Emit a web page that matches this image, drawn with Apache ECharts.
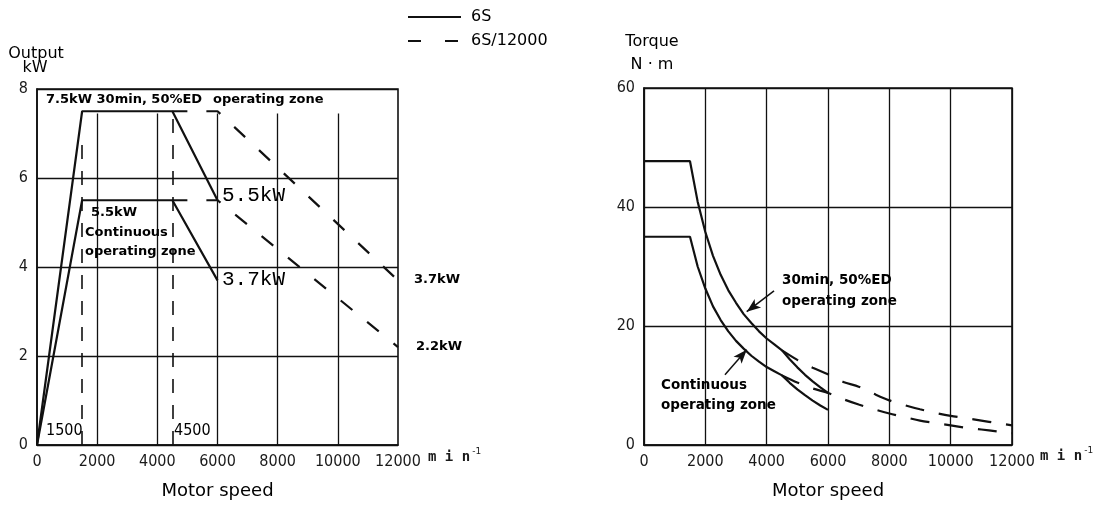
<!DOCTYPE html>
<html>
<head>
<meta charset="utf-8">
<title>6S output and torque vs motor speed</title>
<script src="https://cdn.jsdelivr.net/npm/echarts@6/dist/echarts.min.js"></script>
<style>
  html, body { margin: 0; padding: 0; background: #fff; }
  #chart { width: 1106px; height: 508px; }
</style>
</head>
<body>
<div id="chart"></div>
<script>
// ---- Data ----------------------------------------------------------------
// Output (kW) vs motor speed (min^-1), [speed, kW]
const out30min6S   = [[0, 0], [1500, 7.5], [4500, 7.5], [6000, 5.5]];
const outCont6S    = [[0, 0], [1500, 5.5], [4500, 5.5], [6000, 3.7]];
const out30min12k  = [[4500, 7.5], [6000, 7.5], [12000, 3.7]];
const outCont12k   = [[4500, 5.5], [6000, 5.5], [12000, 2.2]];

// Torque (N·m) vs motor speed, [speed, N·m]
const tq30min6S  = [[0, 47.7], [1500, 47.7], [1750, 40.9], [2000, 35.8], [2250, 31.8], [2500, 28.6],
                    [2750, 26.0], [3000, 23.9], [3250, 22.0], [3500, 20.5], [3750, 19.1], [4000, 17.9],
                    [4250, 16.9], [4500, 15.9], [4750, 14.4], [5000, 13.05], [5250, 11.8], [5500, 10.7],
                    [5750, 9.7], [6000, 8.75]];
const tqCont6S   = [[0, 35.0], [1500, 35.0], [1750, 30.0], [2000, 26.3], [2250, 23.3], [2500, 21.0],
                    [2750, 19.1], [3000, 17.5], [3250, 16.2], [3500, 15.0], [3750, 14.0], [4000, 13.1],
                    [4250, 12.4], [4500, 11.7], [4750, 10.45], [5000, 9.36], [5250, 8.37], [5500, 7.47],
                    [5750, 6.64], [6000, 5.9]];
const tq30min12k = [[4500, 15.9], [5000, 14.3], [5500, 13.0], [6000, 11.9], [6500, 10.6], [7000, 9.8],
                    [7500, 8.6], [8000, 7.5], [8500, 6.7], [9000, 6.0], [9500, 5.4], [10000, 4.9],
                    [10500, 4.5], [11000, 4.1], [11500, 3.7], [12000, 3.3]];
const tqCont12k  = [[4500, 11.7], [5000, 10.5], [5500, 9.5], [6000, 8.75], [6500, 7.7], [7000, 6.8],
                    [7500, 6.0], [8000, 5.3], [8500, 4.7], [9000, 4.1], [9500, 3.7], [10000, 3.3],
                    [10500, 2.9], [11000, 2.6], [11500, 2.3], [12000, 2.0]];

// Vertical grid lines of the output chart stop just under the 7.5 kW line
const outGridSpeeds = [2000, 4000, 6000, 8000, 10000];
const outGridTop = 7.45;
// Base-speed marker lines [speed, top kW]
const baseSpeedLines = [[1500, 7.0], [4500, 7.5]];

// Leader arrows from the zone captions to the torque curves [[from], [to]]
const tqLeaders = [
  [[4240, 25.9], [3350, 22.4]],
  [[2640, 11.8], [3350, 16.0]]
];

const seriesNames = ['6S', '6S/12000'];

// ---- Styles --------------------------------------------------------------
const INK = '#111';
const tickFont = { fontFamily: 'DejaVu Sans Condensed, DejaVu Sans', fontSize: 16, color: '#1a1a1a' };
const solid = { color: INK, width: 2.2, type: 'solid' };
const dashedOut = { color: INK, width: 2.2, type: [15, 19] };
const dashedTq = { color: INK, width: 2.2, type: [19, 15] };

function xAxisFor(gridIndex, showSplit) {
  return {
    type: 'value', gridIndex, min: 0, max: 12000, interval: 2000,
    axisLine: { show: true, lineStyle: { color: INK, width: 1.6 } },
    axisTick: { show: false },
    axisLabel: Object.assign({ margin: 9, formatter: v => String(v) }, tickFont),
    splitLine: { show: showSplit, lineStyle: { color: INK, width: 1.3 } },
    name: 'Motor speed', nameLocation: 'middle', nameGap: 37,
    nameTextStyle: { fontFamily: 'DejaVu Sans', fontSize: 18, color: '#000' }
  };
}
function yAxisFor(gridIndex, max, interval) {
  return {
    type: 'value', gridIndex, min: 0, max, interval,
    axisLine: { show: true, lineStyle: { color: INK, width: 1.6 } },
    axisTick: { show: false },
    axisLabel: Object.assign({ margin: 9, formatter: v => String(v) }, tickFont),
    splitLine: { show: true, lineStyle: { color: INK, width: 1.3 } }
  };
}
function seg(x0, y0, x1, y1) { return [{ coord: [x0, y0] }, { coord: [x1, y1] }]; }

const series = [
  {
    name: seriesNames[0], type: 'line', xAxisIndex: 0, yAxisIndex: 0,
    data: out30min6S, symbol: 'none', lineStyle: solid, itemStyle: { color: INK }, z: 4,
    markLine: {
      silent: true, symbol: ['none', 'none'], label: { show: false },
      lineStyle: { color: INK, width: 1.3, type: 'solid' },
      data: outGridSpeeds.map(s => seg(s, 0, s, outGridTop))
    }
  },
  { name: seriesNames[0], type: 'line', xAxisIndex: 0, yAxisIndex: 0,
    data: outCont6S, symbol: 'none', lineStyle: solid, itemStyle: { color: INK }, z: 4 },
  {
    name: seriesNames[1], type: 'line', xAxisIndex: 0, yAxisIndex: 0,
    data: out30min12k, symbol: 'none', lineStyle: dashedOut, itemStyle: { color: INK }, z: 4,
    markLine: {
      silent: true, symbol: ['none', 'none'], label: { show: false },
      lineStyle: { color: INK, width: 1.6, type: [14, 12] },
      data: baseSpeedLines.map(b => seg(b[0], 0, b[0], b[1]))
    }
  },
  { name: seriesNames[1], type: 'line', xAxisIndex: 0, yAxisIndex: 0,
    data: outCont12k, symbol: 'none', lineStyle: dashedOut, itemStyle: { color: INK }, z: 4 },

  {
    name: seriesNames[0], type: 'line', xAxisIndex: 1, yAxisIndex: 1,
    data: tq30min6S, symbol: 'none', lineStyle: solid, itemStyle: { color: INK }, z: 4,
    markLine: {
      silent: true, symbol: ['none', 'arrow'], symbolSize: [8, 14], label: { show: false },
      lineStyle: { color: INK, width: 1.5, type: 'solid' },
      data: tqLeaders.map(l => seg(l[0][0], l[0][1], l[1][0], l[1][1]))
    }
  },
  { name: seriesNames[0], type: 'line', xAxisIndex: 1, yAxisIndex: 1,
    data: tqCont6S, symbol: 'none', lineStyle: solid, itemStyle: { color: INK }, z: 4 },
  { name: seriesNames[1], type: 'line', xAxisIndex: 1, yAxisIndex: 1,
    data: tq30min12k, symbol: 'none', smooth: 0.3, lineStyle: dashedTq, itemStyle: { color: INK }, z: 4 },
  { name: seriesNames[1], type: 'line', xAxisIndex: 1, yAxisIndex: 1,
    data: tqCont12k, symbol: 'none', smooth: 0.3, lineStyle: dashedTq, itemStyle: { color: INK }, z: 4 }
];

// ---- Captions ------------------------------------------------------------
function txt(x, y, text, font, align) {
  return {
    type: 'text', x, y, silent: true, z: 20,
    style: { text, font, fill: '#000', align: align || 'left', verticalAlign: 'middle' }
  };
}
const BOLD = 'bold 13px "DejaVu Sans"';
const BOLD_R = 'bold 13.5px "DejaVu Sans"';
const TITLE = '16px "DejaVu Sans"';
const MONO = '21px "Liberation Mono"';
const TICK = '16px "DejaVu Sans Condensed", "DejaVu Sans"';
function unitText(x, y) {
  return {
    type: 'text', x, y, silent: true, z: 20,
    style: {
      text: '{u|m i n}{e|-1}', verticalAlign: 'middle', align: 'left',
      rich: {
        u: { font: 'bold 14px "DejaVu Sans Mono"', fill: '#1a1a1a' },
        e: { font: '9px "DejaVu Sans"', fill: '#1a1a1a', padding: [0, 0, 10, 2] }
      }
    }
  };
}

const graphic = [
  txt(36, 54, 'Output', TITLE, 'center'),
  txt(35, 68, 'kW', TITLE, 'center'),
  txt(652, 42, 'Torque', TITLE, 'center'),
  txt(652, 65, 'N · m', TITLE, 'center'),

  txt(46, 100, '7.5kW 30min, 50%ED', BOLD),
  txt(213, 100, 'operating zone', BOLD),
  txt(91, 213, '5.5kW', BOLD),
  txt(85, 233, 'Continuous', BOLD),
  txt(85, 252, 'operating zone', BOLD),
  txt(222, 195, '5.5kW', MONO),
  txt(222, 279, '3.7kW', MONO),
  txt(414, 280, '3.7kW', BOLD),
  txt(416, 347, '2.2kW', BOLD),
  txt(46, 431, '1500', TICK),
  txt(174, 431, '4500', TICK),
  unitText(428, 457),

  txt(782, 280, '30min, 50%ED', BOLD_R),
  txt(782, 301, 'operating zone', BOLD_R),
  txt(661, 385, 'Continuous', BOLD_R),
  txt(661, 405, 'operating zone', BOLD_R),
  unitText(1040, 456)
];

// ---- Chart ---------------------------------------------------------------
const chart = echarts.init(document.getElementById('chart'), null, { renderer: 'canvas' });
chart.setOption({
  backgroundColor: '#fff',
  animation: false,
  legend: {
    data: [
      { name: seriesNames[0] },
      { name: seriesNames[1], lineStyle: { type: [13, 24] } }
    ],
    orient: 'vertical', left: 402, top: 4,
    itemWidth: 53, itemHeight: 12, itemGap: 8,
    selectedMode: false,
    itemStyle: { color: 'rgba(0,0,0,0)', borderWidth: 0 },
    textStyle: { fontFamily: 'DejaVu Sans', fontSize: 16, color: '#000', lineHeight: 16, padding: [0, 0, 0, 5] }
  },
  grid: [
    { left: 37, top: 89, width: 361, height: 356, show: true, borderColor: INK, borderWidth: 1.6,
      backgroundColor: 'transparent', containLabel: false, outerBoundsMode: 'none' },
    { left: 644, top: 88, width: 368, height: 357, show: true, borderColor: INK, borderWidth: 1.6,
      backgroundColor: 'transparent', containLabel: false, outerBoundsMode: 'none' }
  ],
  xAxis: [xAxisFor(0, false), xAxisFor(1, true)],
  yAxis: [yAxisFor(0, 8, 2), yAxisFor(1, 60, 20)],
  tooltip: { show: false },
  series,
  graphic
});
</script>
</body>
</html>
